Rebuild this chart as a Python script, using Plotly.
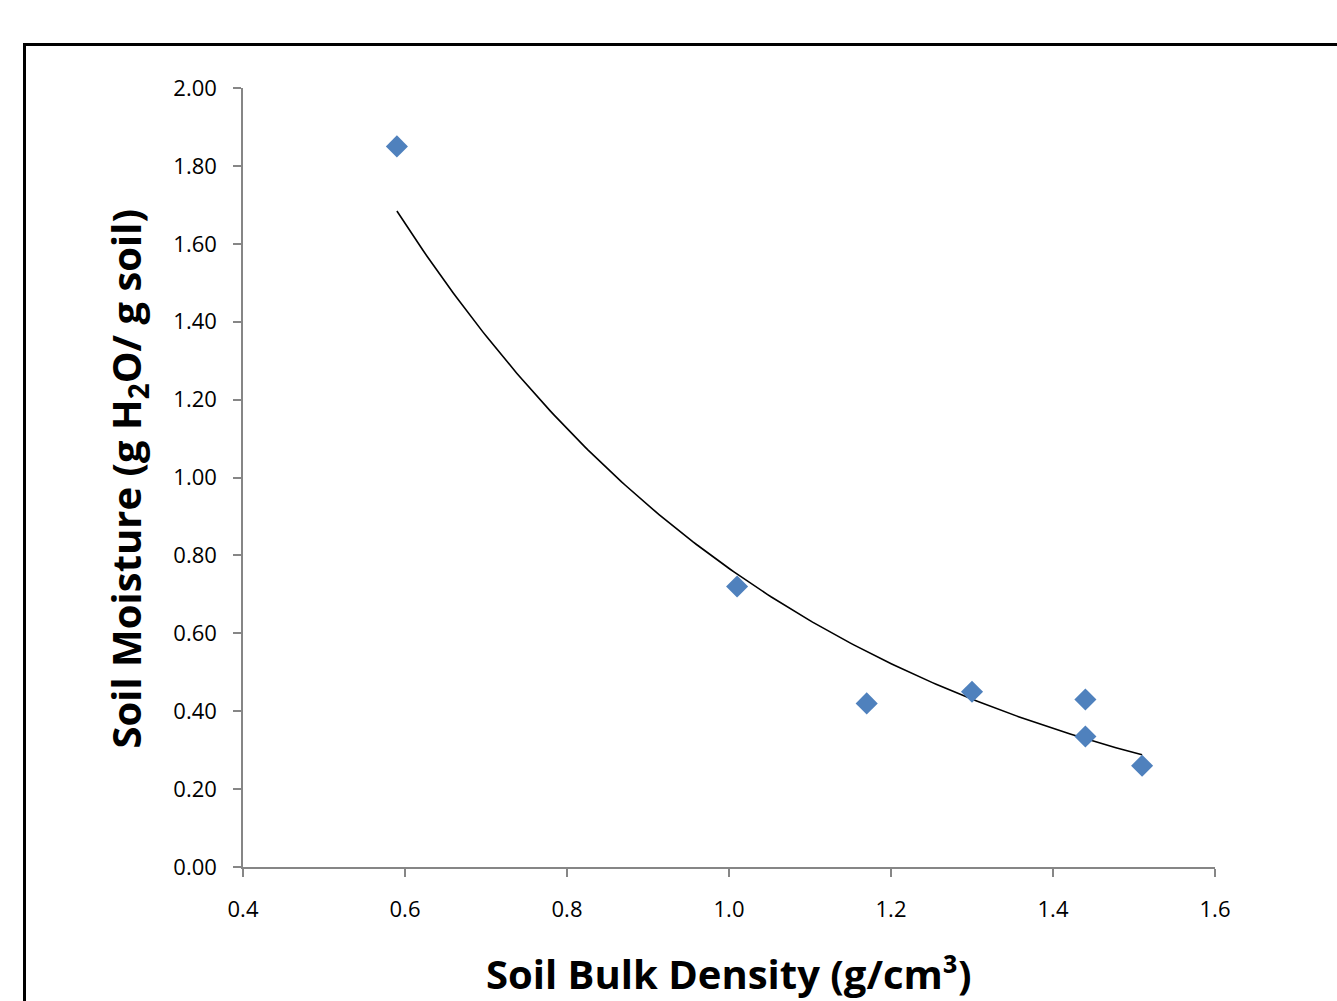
import numpy as np
import plotly.graph_objects as go

bulk_density = [0.59, 1.01, 1.17, 1.30, 1.44, 1.44, 1.51]
soil_moisture = [1.85, 0.72, 0.42, 0.45, 0.43, 0.335, 0.26]

x_tick_vals = [0.4, 0.6, 0.8, 1.0, 1.2, 1.4, 1.6]
y_tick_vals = [0.0, 0.2, 0.4, 0.6, 0.8, 1.0, 1.2, 1.4, 1.6, 1.8, 2.0]

# exponential trendline (least squares on ln y, as in a spreadsheet trendline)
b, ln_a = np.polyfit(np.array(bulk_density), np.log(np.array(soil_moisture)), 1)
xf = np.linspace(min(bulk_density), max(bulk_density), 200)
yf = np.exp(ln_a) * np.exp(b * xf)

font = "Open Sans"

W, H = 1337, 1001
L, T, R, B = 243, 88, 122, 134
PW, PH = W - L - R, H - T - B

fig = go.Figure()
fig.add_trace(go.Scatter(x=xf, y=yf, mode="lines",
                         line=dict(color="black", width=1.6), hoverinfo="skip",
                         showlegend=False))
fig.add_trace(go.Scatter(x=bulk_density, y=soil_moisture, mode="markers",
                         marker=dict(symbol="diamond", size=17, color="#4F81BD",
                                     line=dict(width=0)),
                         showlegend=False))

axis_common = dict(showgrid=False, zeroline=False, showline=True,
                   linecolor="#868686", linewidth=1.5,
                   ticks="outside", ticklen=8, tickcolor="#868686", tickwidth=1.5,
                   tickfont=dict(family=font, size=22, color="black"))

fig.update_xaxes(range=[0.4, 1.6], tickvals=x_tick_vals,
                 ticktext=[f"{v:.1f}" for v in x_tick_vals],
                 ticklabelstandoff=14, **axis_common)
fig.update_yaxes(range=[0, 2.0], tickvals=y_tick_vals,
                 ticktext=[f"{v:.2f}" for v in y_tick_vals],
                 ticklabelstandoff=12, **axis_common)

def px_x(sx):
    return (sx - L) / PW

def px_y(sy):
    return 1 - (sy - T) / PH

fig.add_annotation(text="<b>Soil Bulk Density (g/cm³)</b>",
                   xref="paper", yref="paper", x=px_x(728.5), y=px_y(974),
                   xanchor="center", yanchor="middle", showarrow=False,
                   font=dict(family=font, size=40, color="black"))
fig.add_annotation(text="<b>Soil Moisture (g H<sub>2</sub>O/ g soil)</b>",
                   xref="paper", yref="paper", x=px_x(127), y=px_y(478.5),
                   xanchor="center", yanchor="middle", showarrow=False, textangle=-90,
                   font=dict(family=font, size=40, color="black"))

# outer chart border
fig.add_shape(type="rect", xref="paper", yref="paper",
              x0=px_x(24.5), x1=1.3, y0=-0.3, y1=px_y(44.5),
              line=dict(color="black", width=3), layer="below")

fig.update_layout(width=W, height=H,
                  margin=dict(l=L, r=R, t=T, b=B),
                  paper_bgcolor="white", plot_bgcolor="white")

fig.write_html("out.html", config={"displayModeBar": False},
               post_script="document.body.style.margin='0';document.body.style.overflow='hidden';")
